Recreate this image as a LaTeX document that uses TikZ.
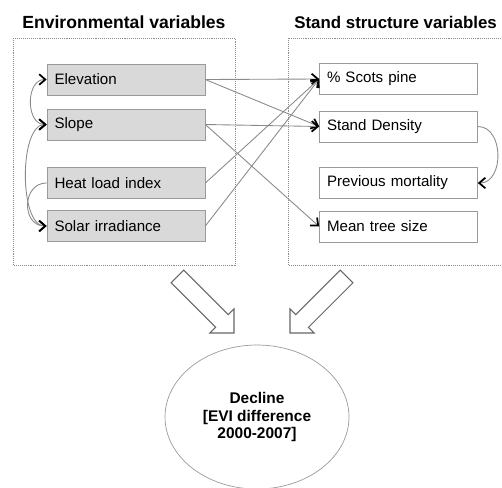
\documentclass[tikz,border=0pt]{standalone}
\usepackage{fontspec}
\setmainfont{Liberation Sans}
\usetikzlibrary{arrows.meta,shapes.geometric}
\definecolor{boxgray}{HTML}{D9D9D9}
\definecolor{edgegray}{HTML}{9A9A9A}
\definecolor{linegray}{HTML}{8A8A8A}
\begin{document}
\begin{tikzpicture}[x=0.02cm,y=-0.02cm,
    title/.style={anchor=west,inner sep=0pt,font=\fontsize{10}{12}\selectfont\bfseries},
    envbox/.style={draw=edgegray,fill=boxgray,minimum height=0.62cm,text width=2.86cm,
        inner xsep=0.15cm,align=left,font=\fontsize{8.6}{10}\selectfont},
    standbox/.style={envbox,fill=white},
    frame/.style={draw=linegray,dash pattern=on 0.5pt off 0.6pt},
    barb/.tip={Straight Barb[color=black,length=3.5pt,width=6pt,line width=1pt]},
    link/.style={draw=linegray,line width=0.5pt,-barb},
    bilink/.style={draw=linegray,line width=0.5pt,barb-barb},
    hollow/.style={draw=black!60,line width=0.6pt,fill=white}]
    \useasboundingbox (0,0) rectangle (502,487);
    \clip (0,0) rectangle (502,487);

    % group frames and titles
    \draw[frame] (13,38) rectangle (235,265);
    \draw[frame] (288,38) rectangle (520,265);
    \node[title] (envtitle) at (22,22) {Environmental variables};
    \node[title,font=\fontsize{9.6}{12}\selectfont\bfseries] (standtitle) at (294,22) {Stand structure variables};

    % environmental variables
    \node[envbox] (elev) at (126,79.5) {Elevation};
    \node[envbox] (slope) at (126,124.5) {Slope};
    \node[envbox] (heat) at (126,183) {Heat load index};
    \node[envbox] (solar) at (126,226) {Solar irradiance};

    % stand structure variables
    \node[standbox] (scots) at (398.5,79) {\% Scots pine};
    \node[standbox] (density) at (398.5,126.5) {Stand Density};
    \node[standbox] (mort) at (398.5,183) {Previous mortality};
    \node[standbox] (size) at (398.5,226.5) {Mean tree size};

    % response
    \node[shape=ellipse,draw=edgegray,minimum width=3.68cm,minimum height=2.88cm,align=center,
        font=\fontsize{8.8}{10}\selectfont\bfseries] (decline) at (257,417)
        {Decline\\{}[EVI difference\\2000-2007]};

    % links between boxes
    \path (elev.east) edge [link] (scots.west);
    \path (elev.east) edge [link] (density.west);
    \path (slope.east) edge [link] (density.west);
    \path (slope.east) edge [link] (size.west);
    \path (heat.east) edge [link] (scots.west);
    \path (solar.east) edge [link] (scots.west);

    \path (elev.west) edge [bilink,out=180,in=180,looseness=1.2] (slope.west);
    \path (slope.west) edge [bilink,out=180,in=180,looseness=0.7] (solar.west);
    \path (heat.west) edge [link,out=180,in=180,looseness=1.5] (solar.west);
    \path (density.east) edge [link,out=0,in=0,looseness=1.2] (mort.east);

    % big hollow arrows
    \foreach \tx/\ty/\ang in {234/333/-45,290/333/-135}{
        \begin{scope}[shift={(\tx,\ty)},rotate=\ang]
            \draw[hollow] (0,0) -- (-17,17) -- (-17,9) -- (-80,9) -- (-80,-9)
                -- (-17,-9) -- (-17,-17) -- cycle;
        \end{scope}
    }
\end{tikzpicture}
\end{document}
